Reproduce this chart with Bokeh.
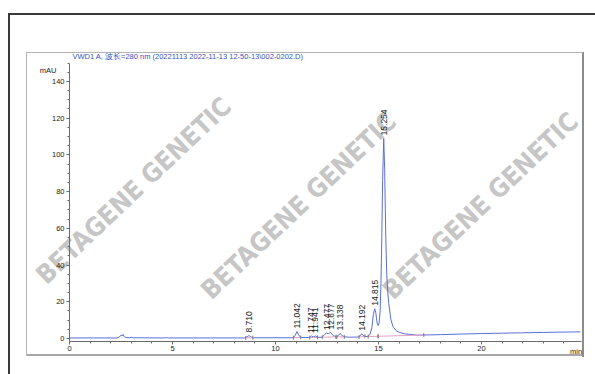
import math
from bokeh.plotting import figure
from bokeh.models import Range1d, FixedTicker, Label, ColumnDataSource
from bokeh.core.properties import value
from bokeh.embed import file_html
from bokeh.resources import INLINE

# ---------------- data ----------------
title_text = "VWD1 A, 波长=280 nm (20221113 2022-11-13 12-50-13\\002-0202.D)"
x_unit = "min"
y_unit = "mAU"
watermark_text = "BETAGENE GENETIC"

time_min = [0.0, 2.30, 2.42, 2.50, 2.55, 2.60, 2.66, 2.75, 2.90, 3.00, 3.08,
            4.60, 4.70, 4.80, 8.50, 8.62, 8.71, 8.80, 8.92, 10.85, 10.96,
            11.04, 11.12, 11.25, 11.65, 11.75, 11.84, 11.94, 12.05, 12.25,
            12.38, 12.47, 12.57, 12.68, 12.80, 12.95, 13.05, 13.14, 13.23,
            13.36, 13.60, 14.05, 14.19, 14.30, 14.45, 14.58, 14.68, 14.75,
            14.815, 14.87, 14.93, 14.98, 15.03, 15.08, 15.12, 15.16, 15.20,
            15.254, 15.30, 15.35, 15.40, 15.45, 15.50, 15.60, 15.70, 15.85,
            16.00, 16.30, 16.90, 17.20, 18.0, 19.0, 20.0, 21.0, 22.0, 23.0,
            24.0, 24.8]
signal_mau = [0.3, 0.3, 0.8, 1.8, 1.3, 2.2, 1.0, 0.5, 0.4, 0.7, 0.4,
              0.3, 0.5, 0.3, 0.3, 0.9, 1.6, 0.9, 0.4, 0.4, 1.8,
              3.8, 1.8, 0.6, 0.5, 1.4, 0.8, 1.4, 0.6, 0.7,
              2.0, 3.0, 2.6, 3.3, 1.6, 0.9, 1.6, 2.8, 1.5,
              0.9, 0.7, 0.8, 2.6, 1.3, 1.0, 2.0, 6.0, 13.0,
              16.2, 14.0, 8.5, 7.0, 8.5, 15.0, 30.0, 55.0, 86.0,
              109.0, 92.0, 57.0, 35.0, 25.0, 19.0, 10.5, 6.5, 4.3,
              3.4, 2.5, 1.8, 1.9, 2.1, 2.4, 2.7, 2.9, 3.1, 3.3,
              3.5, 3.6]

peak_rt = [8.710, 11.042, 11.747, 11.941, 12.477, 12.677, 13.138, 14.192, 14.815, 15.254]
peak_height = [1.6, 3.8, 1.4, 1.4, 3.0, 3.3, 2.8, 2.6, 16.2, 109.0]
peak_label = ["8.710", "11.042", "11.747", "11.941", "12.477", "12.677",
              "13.138", "14.192", "14.815", "15.254"]

# integration baselines (start time, start level, end time, end level)
base_t0 = [8.55, 10.88, 11.66, 12.27, 12.98, 14.06, 14.50, 14.98]
base_y0 = [0.3, 0.4, 0.5, 0.7, 0.9, 0.8, 1.0, 1.2]
base_t1 = [8.90, 11.22, 12.04, 12.93, 13.34, 14.34, 14.98, 17.20]
base_y1 = [0.4, 0.6, 0.6, 0.9, 0.9, 1.2, 1.2, 1.9]

x_ticks = [0, 5, 10, 15, 20]
x_minor = list(range(0, 25))
x_axis_end = 24.85
y_ticks = [0, 20, 40, 60, 80, 100, 120, 140]
y_minor = list(range(0, 151, 5))
y_axis_floor = -1.634
y_axis_top = 150

# ---------------- figure: frame = the chart's grey box ----------------
p = figure(width=595, height=374,
           x_range=Range1d(-2.087, 24.903), y_range=Range1d(-9.26, 155.77),
           output_backend="svg", toolbar_location=None,
           min_border_left=26, min_border_right=13,
           min_border_top=52, min_border_bottom=19)
p.xgrid.visible = False
p.ygrid.visible = False
p.outline_line_color = None
p.border_fill_color = None
p.background_fill_color = None

# document frame lines and the grey chart box, as CSS lines on the host
lines = [
    ("#3a3a3a", "100% 2px", "8px 13px"),
    ("#3a3a3a", "2px 100%", "8px 13px"),
    ("#b4b4b4", "557px 1px", "26px 52px"),
    ("#b4b4b4", "1px 304px", "26px 52px"),
    ("#8c8c8c", "2px 305px", "582px 52px"),
    ("#a8a8a8", "558px 2px", "26px 354px"),
]
p.styles = {
    "background-color": "white",
    "background-image": ", ".join(f"linear-gradient({c},{c})" for c, _, _ in lines),
    "background-size": ", ".join(s for _, s, _ in lines),
    "background-position": ", ".join(pos for _, _, pos in lines),
    "background-repeat": "no-repeat",
}

# axes drawn inside the box, at x = 0 and at the floor of the y scale
axis_col = "#6a6a6a"
xax = p.xaxis[0]
xax.ticker = FixedTicker(ticks=x_ticks, minor_ticks=x_minor)
xax.fixed_location = y_axis_floor
xax.bounds = (0, x_axis_end)
xax.major_label_standoff = 2
yax = p.yaxis[0]
yax.ticker = FixedTicker(ticks=y_ticks, minor_ticks=y_minor)
yax.fixed_location = 0
yax.bounds = (y_axis_floor, y_axis_top)
yax.major_label_standoff = 2
for ax in (xax, yax):
    ax.axis_line_color = axis_col
    ax.major_tick_line_color = axis_col
    ax.minor_tick_line_color = axis_col
    ax.major_tick_in = 0
    ax.major_tick_out = 3
    ax.minor_tick_in = 0
    ax.minor_tick_out = 2
    ax.major_label_text_font = "Liberation Sans"
    ax.major_label_text_font_size = "7.5px"
    ax.major_label_text_color = "#222222"

# title and unit labels
p.add_layout(Label(x=0.146, y=153.6, text=title_text, text_align="left",
                   text_baseline="middle", text_font="Liberation Sans",
                   text_font_size="7.5px", text_color="#3651c4"))
p.add_layout(Label(x=-0.63, y=146.0, text=y_unit, text_align="right",
                   text_baseline="middle", text_font="Liberation Sans",
                   text_font_size="7.5px", text_color="#222222"))
p.add_layout(Label(x=24.59, y=-7.08, text=x_unit, text_align="center",
                   text_baseline="middle", text_font="Liberation Sans",
                   text_font_size="7.5px", text_color="#222222"))

# watermarks
for cx, cy in [(3.11, 80.6), (11.12, 72.4), (19.95, 72.4)]:
    p.add_layout(Label(x=cx, y=cy, text=watermark_text, angle=43.5, angle_units="deg",
                       text_align="center", text_baseline="middle",
                       text_font="DejaVu Sans Condensed", text_font_style="bold",
                       text_font_size="26px", text_color="#c6c6c6", level="underlay"))

# signal
p.line(time_min, signal_mau, line_color="#5b6fd6", line_width=1)
p.segment(x0=base_t0, y0=base_y0, x1=base_t1, y1=base_y1,
          line_color="#e6a2c6", line_width=1)
p.scatter(x=base_t0 + base_t1, y=base_y0 + base_y1, marker="dash", angle=math.pi / 2,
          size=4, line_color="#666666", line_width=0.8)

# peak labels
label_y = [h + 1.6 for h in peak_height]
src = ColumnDataSource(dict(x=peak_rt, y=label_y, text=peak_label))
p.text(x="x", y="y", text="text", source=src, angle=math.pi / 2,
       text_align="left", text_baseline="middle",
       text_font=value("Liberation Sans"), text_font_size=value("8.5px"),
       text_color="#222222")

open("out.html", "w").write(file_html(p, INLINE))
